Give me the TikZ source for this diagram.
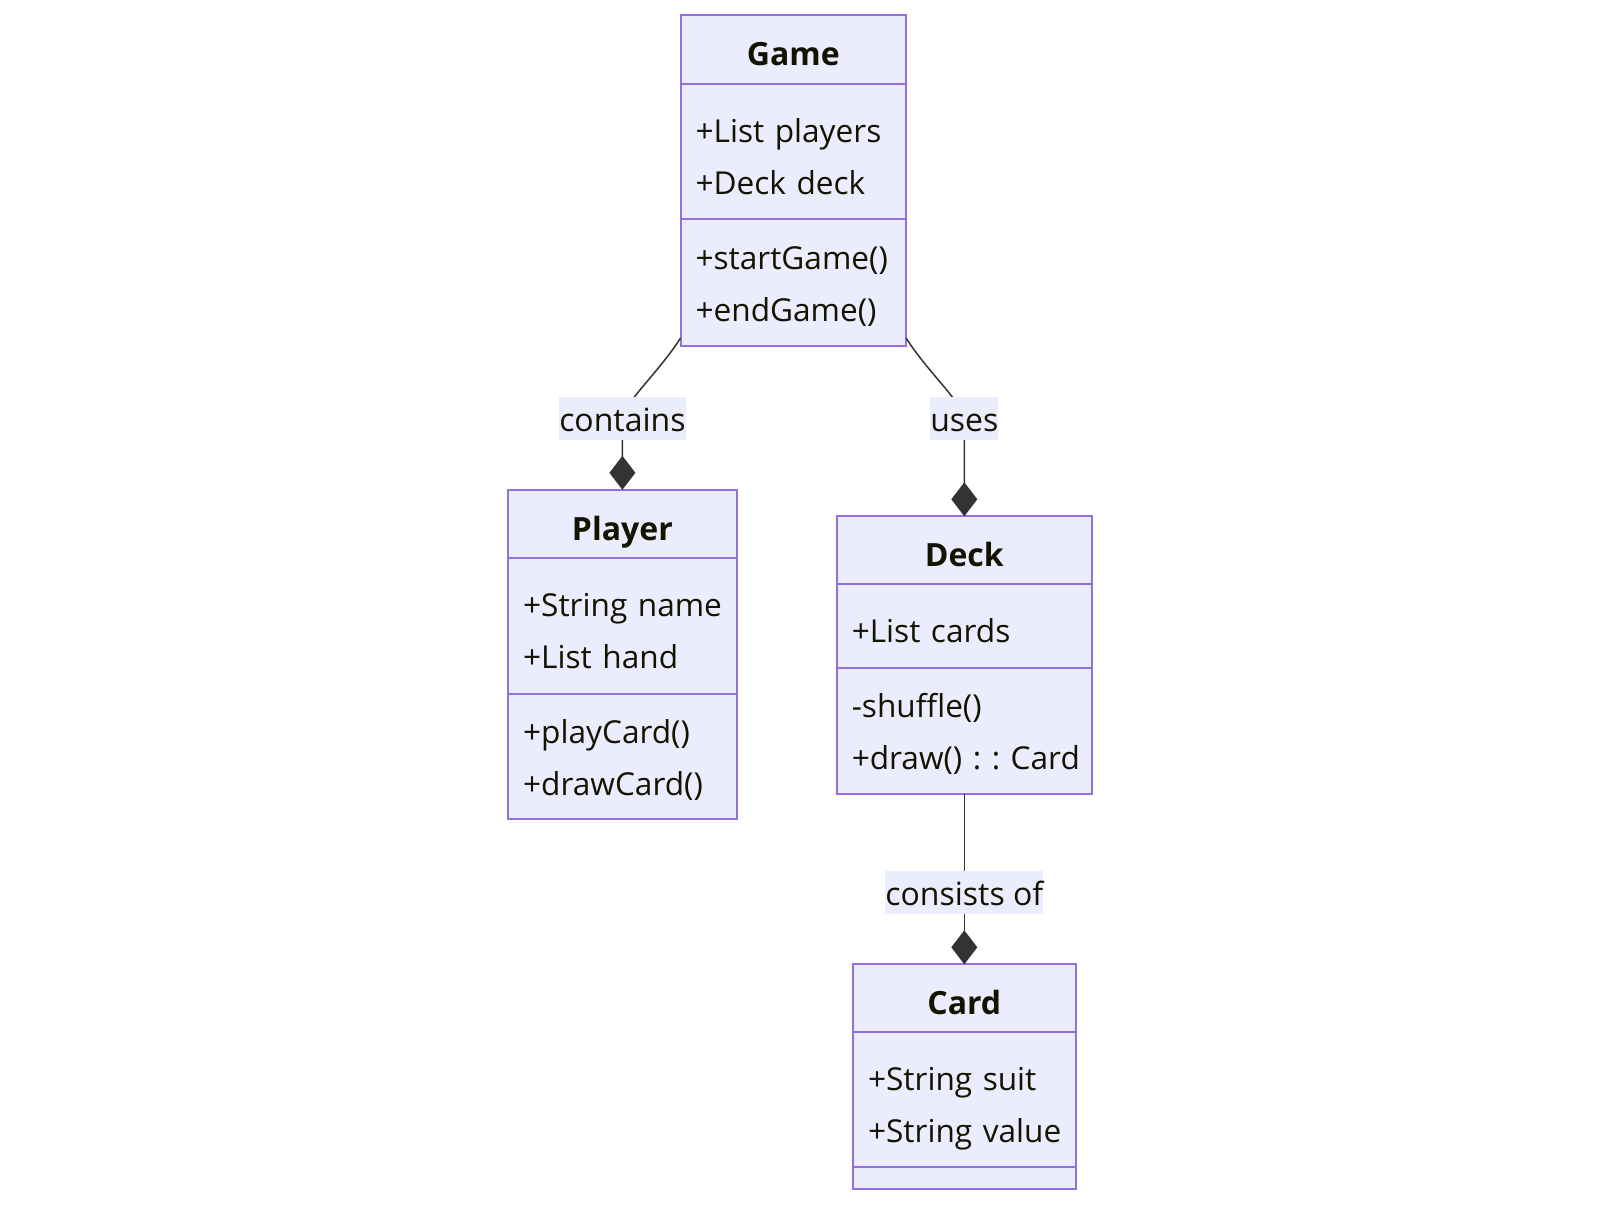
\documentclass[tikz,border=0pt]{standalone}
\usepackage{fontspec}
\setmainfont{Open Sans}
\usetikzlibrary{arrows.meta,positioning}
\definecolor{clsfill}{HTML}{ECECFF}
\definecolor{clsline}{HTML}{9370DB}
\definecolor{edgeink}{HTML}{333333}
\definecolor{txtink}{HTML}{131300}

\begin{document}
\begin{tikzpicture}[
  x=0.5pt, y=-0.5pt,
  font=\fontsize{16}{26}\selectfont,
  part/.style={
    draw=clsline, line width=1pt, fill=clsfill, text=txtink,
    inner sep=0pt, outer sep=0pt
  },
  head/.style={part, anchor=north, minimum width=#1,
    text height=20.4pt, text depth=4pt,
    font=\fontsize{16}{26}\selectfont\bfseries},
  sect/.style={part, align=left, text width=#1, inner xsep=7.5pt,
    font=\fontsize{15.8}{26}\selectfont,
    execute at end node={\rule[-4pt]{0pt}{4pt}}},
  attrs/.style={sect=#1, execute at begin node={\rule{0pt}{20.55pt}}},
  meths/.style={sect=#1, execute at begin node={\rule{0pt}{16.75pt}}},
  lab/.style={fill=clsfill, text=txtink, inner sep=0pt,
    text height=17.2pt, text depth=4.3pt},
  compo/.style={draw=edgeink, line width=0.75pt,
    -{Diamond[length=17pt,width=13pt]}}
]
  \useasboundingbox (0,0) rectangle (1600,1206);

  % Game
  \node[head=112.75pt, minimum height=34.2pt] (gameh) at (793.3,15.3) {Game};
  \node[attrs=97.75pt, minimum height=67.85pt, below=0pt of gameh] (gamea) {%
    +List~players\\
    +Deck~deck};
  \node[meths=97.75pt, minimum height=63.25pt, below=0pt of gamea] (gamem) {%
    +startGame()\\
    +endGame()};

  % Player
  \node[head=114.25pt, minimum height=34.2pt] (playerh) at (622.4,489.8) {Player};
  \node[attrs=99.25pt, minimum height=67.85pt, below=0pt of playerh] (playera) {%
    +String~name\\
    +List~hand};
  \node[meths=99.25pt, minimum height=62.75pt, below=0pt of playera] (playerm) {%
    +playCard()\\
    +drawCard()};

  % Deck
  \node[head=127.55pt, minimum height=33.7pt] (deckh) at (964.3,516.3) {Deck};
  \node[attrs=112.55pt, minimum height=42.35pt, below=0pt of deckh] (decka) {%
    +List~cards};
  \node[meths=112.55pt, minimum height=62.75pt, below=0pt of decka] (deckm) {%
    -shuffle()\\
    +draw()~:~:~Card};

  % Card
  \node[head=111.25pt, minimum height=33.65pt] (cardh) at (964.3,964.3) {Card};
  \node[attrs=96.25pt, minimum height=67.85pt, below=0pt of cardh] (carda) {%
    +String~suit\\
    +String~value};
  \node[part, minimum width=111.25pt, minimum height=10.75pt,
    below=0pt of carda] (cardm) {};

  % composition links
  \coordinate (lcont) at (622.4,418.4);
  \coordinate (luses) at (964.3,418.4);
  \coordinate (lcons) at (964.3,892.5);
  \draw[compo] ([yshift=4pt]gamem.south west)
    to[out=-122, in=90, out looseness=1, in looseness=0.35] (lcont)
    -- (playerh.north);
  \draw[compo] ([yshift=4pt]gamem.south east)
    to[out=-58, in=90, out looseness=1, in looseness=0.35] (luses)
    -- (deckh.north);
  \draw[compo] (deckm.south) -- (cardh.north);

  \node[lab] at (lcont) {contains};
  \node[lab] at (luses) {uses};
  \node[lab] at (lcons) {consists of};
\end{tikzpicture}
\end{document}
